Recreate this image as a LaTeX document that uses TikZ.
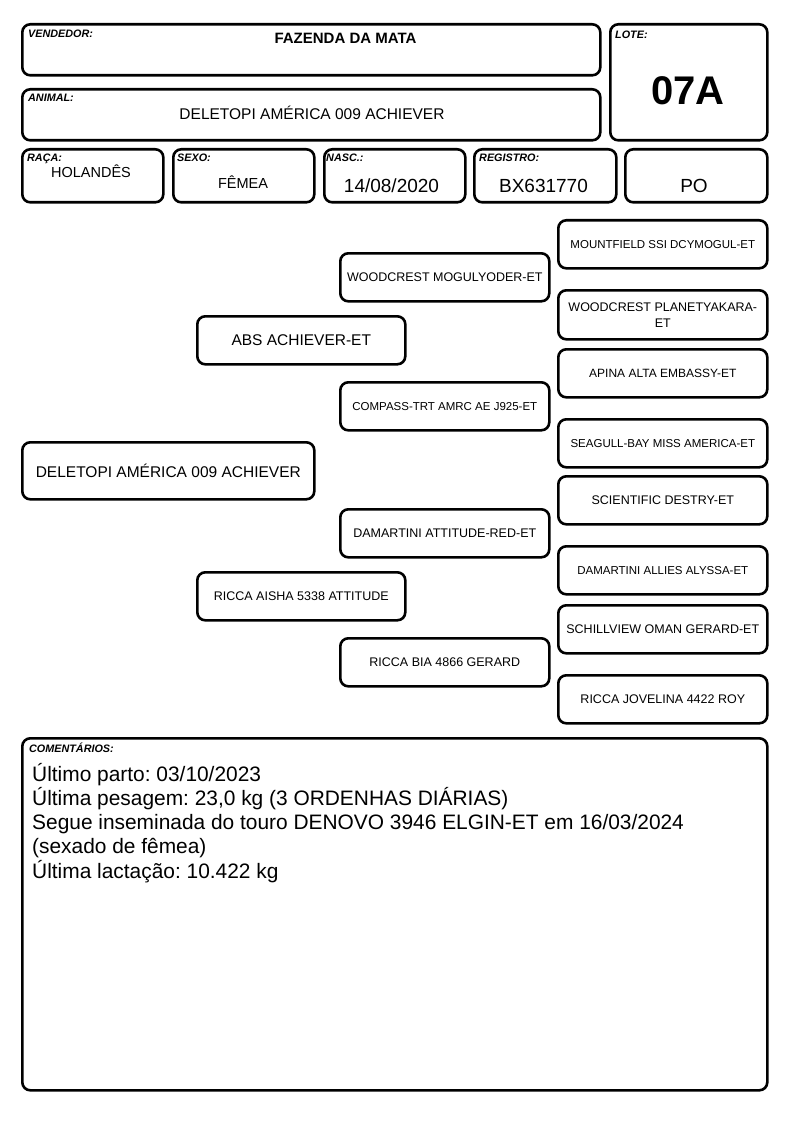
\documentclass[tikz,border=0pt]{standalone}
\usepackage{fontspec}
\setmainfont{Liberation Sans}
\frenchspacing
\newcommand\fsz[1]{\fontsize{#1}{16}\selectfont}
\begin{document}
\begin{tikzpicture}[x=1pt,y=-1pt,
  box/.style={draw=black, line width=2.6pt, rounded corners=8pt, inner sep=0pt, anchor=north west, align=center},
  lab/.style={font=\fontsize{10.8}{12}\selectfont\bfseries\itshape, inner sep=0pt, anchor=base west},
  val/.style={inner sep=0pt, anchor=base},
  cmt/.style={inner sep=0pt, anchor=base west, font=\fontsize{20.9}{24}\selectfont}]
\useasboundingbox (0,0) rectangle (794,1123);
\newcommand\bx[7]{\node[box, font=\fsz{#6}, minimum width=#4-#2, minimum height=#5-#3] (#1) at (#2,#3) {#7};}
% header boxes
\bx{vend}{21}{23}{599}{74}{10}{}
\bx{lote}{609}{23}{766}{139}{10}{}
\bx{anim}{21}{88}{599}{139}{10}{}
\bx{raca}{21}{148}{162}{201}{10}{}
\bx{sexo}{172}{148}{313}{201}{10}{}
\bx{nasc}{323}{148}{464}{201}{10}{}
\bx{regi}{473}{148}{615}{201}{10}{}
\bx{po}{624}{148}{766}{201}{10}{}
% labels
\node[lab] (lvend) at (28,38) {VENDEDOR:};
\node[lab] (llote) at (615,39) {LOTE:};
\node[lab] (lanim) at (28,102) {ANIMAL:};
\node[lab] (lraca) at (27,162) {RAÇA:};
\node[lab] (lsexo) at (177,162) {SEXO:};
\node[lab] (lnasc) at (326,162) {NASC.:};
\node[lab] (lregi) at (479,162) {REGISTRO:};
% values
\node[val, font=\fontsize{15}{17}\selectfont\bfseries] (vvend) at (345.5,44) {FAZENDA DA MATA};
\node[val, font=\fsz{15.5}] (vanim) at (312,120) {DELETOPI AMÉRICA 009 ACHIEVER};
\node[val, font=\fontsize{40}{44}\selectfont\bfseries] (vlote) at (688,105) {07A};
\node[val, font=\fsz{14.5}] (vraca) at (91,178) {HOLANDÊS};
\node[val, font=\fsz{14.5}] (vsexo) at (243,189) {FÊMEA};
\node[val, font=\fsz{19}] (vnasc) at (391.5,193) {14/08/2020};
\node[val, font=\fsz{19}] (vregi) at (543.5,193) {BX631770};
\node[val, font=\fsz{19}] (vpo) at (694,193) {PO};
% pedigree
\bx{p1}{21}{441}{313}{498}{15.5}{DELETOPI AMÉRICA 009 ACHIEVER}
\bx{s}{196}{315}{404}{363}{15.5}{ABS ACHIEVER-ET}
\bx{d}{196}{571}{404}{619}{12.5}{RICCA AISHA 5338 ATTITUDE}
\bx{ss}{339}{252}{548}{300}{12.5}{WOODCREST MOGULYODER-ET}
\bx{sd}{339}{381}{548}{429}{11.5}{COMPASS-TRT AMRC AE J925-ET}
\bx{ds}{339}{508}{548}{556}{12.5}{DAMARTINI ATTITUDE-RED-ET}
\bx{dd}{339}{637}{548}{685}{12.5}{RICCA BIA 4866 GERARD}
\bx{sss}{557}{219}{766}{267}{11.5}{MOUNTFIELD SSI DCYMOGUL-ET}
\bx{ssd}{557}{289}{766}{338}{12.5}{WOODCREST PLANETYAKARA-\\ET}
\bx{sds}{557}{348}{766}{396}{12}{APINA ALTA EMBASSY-ET}
\bx{sdd}{557}{418}{766}{466}{11.5}{SEAGULL-BAY MISS AMERICA-ET}
\bx{dss}{557}{475}{766}{523}{12.5}{SCIENTIFIC DESTRY-ET}
\bx{dsd}{557}{545}{766}{593}{11.5}{DAMARTINI ALLIES ALYSSA-ET}
\bx{dds}{557}{604}{766}{652}{12.5}{SCHILLVIEW OMAN GERARD-ET}
\bx{ddd}{557}{674}{766}{722}{12.5}{RICCA JOVELINA 4422 ROY}
% comments
\bx{com}{21}{737}{766}{1089}{10}{}
\node[lab] (lcom) at (29,752) {COMENTÁRIOS:};
\node[cmt] (c1) at (32,781) {Último parto: 03/10/2023};
\node[cmt] (c2) at (32,805.3) {Última pesagem: 23,0 kg (3 ORDENHAS DIÁRIAS)};
\node[cmt] (c3) at (32,829.6) {Segue inseminada do touro DENOVO 3946 ELGIN-ET em 16/03/2024};
\node[cmt] (c4) at (32,853.9) {(sexado de fêmea)};
\node[cmt] (c5) at (32,878.2) {Última lactação: 10.422 kg};
\end{tikzpicture}
\end{document}
